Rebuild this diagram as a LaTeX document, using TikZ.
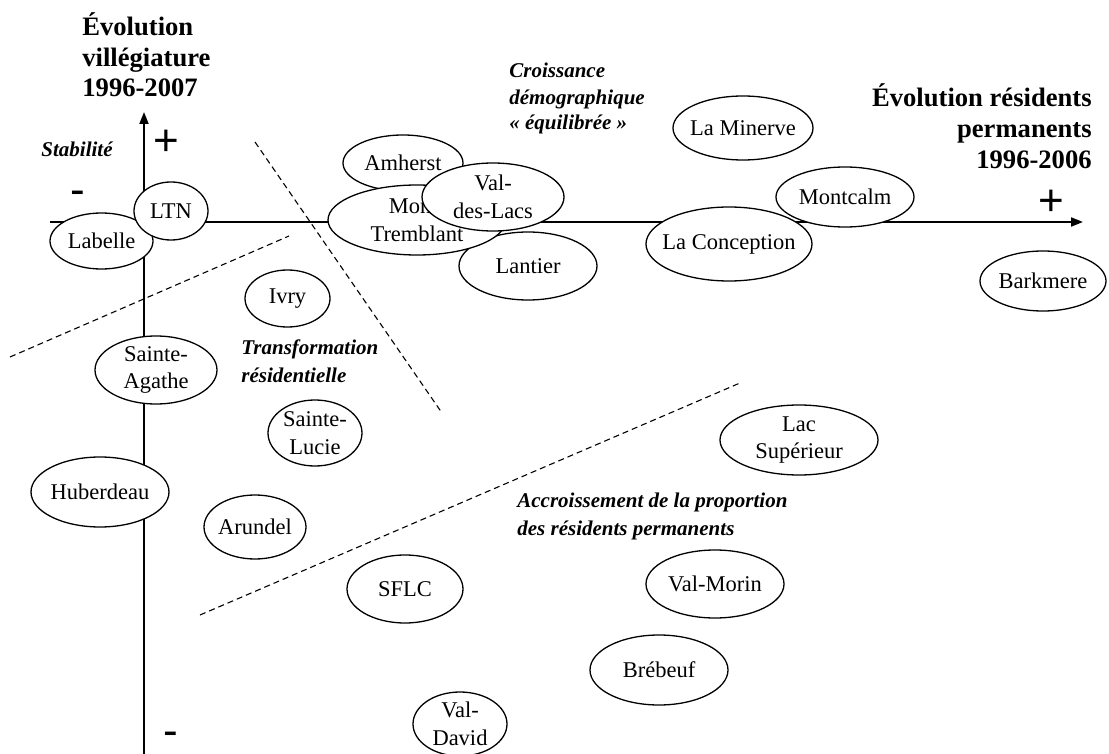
\documentclass[tikz,border=0pt]{standalone}
\usepackage{fontspec}
\setmainfont{Liberation Serif}
\newfontfamily\signfont{Liberation Sans}
\usetikzlibrary{shapes.geometric,arrows.meta}
\newcommand\mytown[6]{%
  \node[town, minimum width=#4pt, minimum height=#5pt] (#1) at (#2,#3) {};
  \node[townlabel] (#1-t) at (#1.center) {#6};}
\begin{document}
\begin{tikzpicture}[x=0.5pt,y=-0.5pt,
  town/.style={draw, ellipse, fill=white, inner sep=0pt, line width=0.65pt},
  townlabel/.style={align=center, inner sep=0pt, font=\fontsize{11.25}{13.8}\selectfont},
  axisline/.style={line width=0.9pt, -{Triangle[length=6pt,width=4.5pt]}},
  divider/.style={line width=0.55pt, dash pattern=on 3pt off 2pt},
  titletext/.style={inner sep=0pt, font=\fontsize{13.3}{15.5}\selectfont\bfseries},
  zonetext/.style={inner sep=0pt, font=\fontsize{10.5}{13}\selectfont\bfseries\itshape},
  signtext/.style={inner sep=0pt, anchor=base, font=\signfont\fontsize{22}{24}\selectfont}]
\useasboundingbox (0,0) rectangle (1109,754);

% axes
\coordinate (ybot) at (144,754);
\coordinate (ytop) at (144,112);
\coordinate (xleft) at (50,222);
\coordinate (xright) at (1083,222);
\draw[axisline] (ybot) -- (ytop);
\draw[axisline] (xleft) -- (xright);

% dividers
\coordinate (d1a) at (10,357);  \coordinate (d1b) at (289,236);
\coordinate (d2a) at (255,142); \coordinate (d2b) at (442,413);
\coordinate (d3a) at (200,615); \coordinate (d3b) at (740,383);
\draw[divider] (d1a) -- (d1b);
\draw[divider] (d2a) -- (d2b);
\draw[divider] (d3a) -- (d3b);

% towns
\mytown{labelle}{101.5}{241}{51.5}{28}{Labelle}
\mytown{ltn}{171}{211}{37}{29}{LTN}
\mytown{amherst}{403}{163}{60}{28}{Amherst}
\mytown{lantier}{528}{266}{69}{34}{Lantier}
\mytown{monttr}{417}{220}{89}{35}{Mont-\\Tremblant}
\mytown{valdeslacs}{493}{197}{71}{34}{Val-\\des-Lacs}
\mytown{laminerve}{743}{128}{70}{32}{La Minerve}
\mytown{laconception}{729}{244}{83}{37}{La Conception}
\mytown{montcalm}{845}{197}{69}{30}{Montcalm}
\mytown{barkmere}{1043}{281}{63}{30}{Barkmere}
\mytown{ivry}{287.5}{298.5}{42.5}{28.5}{Ivry}
\mytown{steagathe}{156}{370}{61}{34}{Sainte-\\Agathe}
\mytown{stelucie}{315}{433}{47}{33}{Sainte-\\Lucie}
\mytown{huberdeau}{100}{492}{69}{35}{Huberdeau}
\mytown{arundel}{255}{527}{51}{32}{Arundel}
\mytown{sflc}{405}{589}{58}{34}{SFLC}
\mytown{valmorin}{715}{584}{69}{34}{Val-Morin}
\mytown{brebeuf}{659}{670}{69}{35}{Brébeuf}
\mytown{valdavid}{460}{724}{47}{32}{Val-\\David}
\mytown{lacsup}{799}{440}{79}{35}{Lac\\Supérieur}

% axis titles
\node[titletext, anchor=base west] (yt1) at (82,36) {Évolution};
\node[titletext, anchor=base west] (yt2) at (82,66.5) {villégiature};
\node[titletext, anchor=base west] (yt3) at (82,97) {1996-2007};
\node[titletext, anchor=base east] (xt1) at (1092,107) {Évolution résidents};
\node[titletext, anchor=base east] (xt2) at (1092,138) {permanents};
\node[titletext, anchor=base east] (xt3) at (1092,169) {1996-2006};

% zone labels
\node[zonetext, anchor=base west] (z1) at (41,157) {Stabilité};
\node[zonetext, anchor=base west] (z2a) at (509,78) {Croissance};
\node[zonetext, anchor=base west] (z2b) at (509,104.5) {démographique};
\node[zonetext, anchor=base west] (z2c) at (509,130) {« équilibrée »};
\node[zonetext, anchor=base west] (z3a) at (241,355) {Transformation};
\node[zonetext, anchor=base west] (z3b) at (241,382) {résidentielle};
\node[zonetext, anchor=base west] (z4a) at (517,507) {Accroissement de la proportion};
\node[zonetext, anchor=base west] (z4b) at (517,535) {des résidents permanents};

% signs
\node[signtext] (pl1) at (166,156) {+};
\node[signtext] (pl2) at (1051,216) {+};
\node[signtext] (mi1) at (78,205) {-};
\node[signtext] (mi2) at (171,745) {-};
\end{tikzpicture}
\end{document}
